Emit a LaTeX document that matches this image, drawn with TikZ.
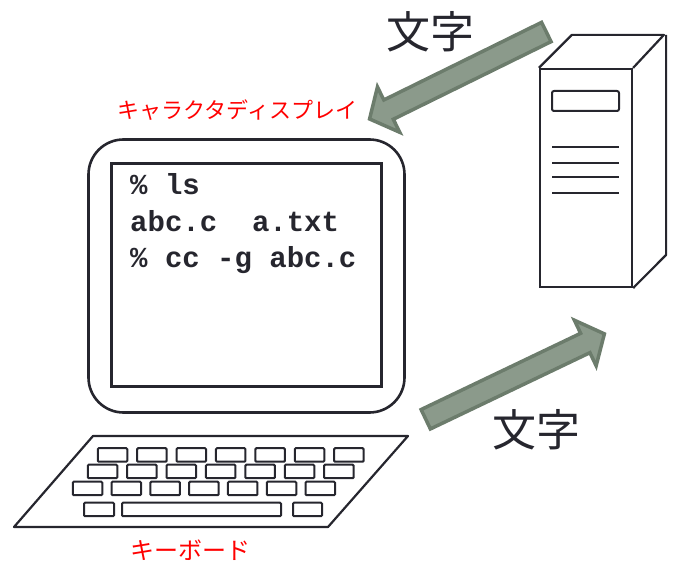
\documentclass[tikz,border=0pt]{standalone}
\usepackage{fontspec}
\usetikzlibrary{shapes.arrows}
\newfontfamily\jpfont{Noto Sans CJK JP}
\newfontfamily\termfont{Liberation Mono}
\definecolor{inkcol}{RGB}{38,38,46}
\definecolor{arrowfill}{RGB}{139,154,139}
\definecolor{arrowedge}{RGB}{108,124,108}

\begin{document}
\begin{tikzpicture}[x=1pt,y=1pt,
    outline/.style={draw=inkcol,line width=2.6pt},
    key/.style={draw=inkcol,line width=2pt,rounded corners=1pt,inner sep=0pt,minimum height=13.5pt},
    bigarrow/.style={single arrow,draw=arrowedge,fill=arrowfill,line width=3.5pt,inner xsep=0pt,inner ysep=9pt,
        minimum width=47pt,single arrow head extend=14.5pt,single arrow tip angle=100},
    tline/.style={anchor=base west,inner sep=0pt,text=inkcol,
        font=\termfont\bfseries\fontsize{29}{36}\selectfont},
    jplabel/.style={inner sep=0pt,text=red},
    ]
    \useasboundingbox (0,0) rectangle (681,563);

    %Display
    \node[outline,rounded corners=35pt,minimum width=316pt,minimum height=273pt] (monitor) at (246.5,287) {};
    \node[outline,minimum width=270pt,minimum height=223pt] (screen) at (246.5,288) {};
    \node[tline] (line1) at (130,368) {\%\ ls};
    \node[tline] (line2) at (130,331) {abc.c\ \ a.txt};
    \node[tline] (line3) at (130,295) {\%\ cc -g abc.c};
    \node[jplabel,font=\jpfont\fontsize{22}{22}\selectfont] (displbl) at (237.5,453) {キャラクタディスプレイ};

    %Keyboard
    \draw[outline,line width=2.2pt,line join=round] (93,127) -- (408,127) -- (328,36) -- (14,36) -- cycle;
    \foreach \i in {0,...,6} {
        \node[key,minimum width=29.5pt] (ka\i) at ({112.5+39.4*\i},108) {};
        \node[key,minimum width=29.5pt] (kb\i) at ({102.5+39.4*\i},91.5) {};
        \node[key,minimum width=29.5pt] (kc\i) at ({87.5+38.8*\i},74.5) {};
    }
    \node[key,minimum width=30pt] (kd0) at (99,53.5) {};
    \node[key,minimum width=159pt] (space) at (201.5,53.5) {};
    \node[key,minimum width=29pt] (kd1) at (307.5,53.5) {};
    \node[jplabel,font=\jpfont\fontsize{24}{24}\selectfont] (kbdlbl) at (190,13) {キーボード};

    %Server
    \node[outline,line width=2.2pt,minimum width=92pt,minimum height=218pt] (server) at (586,385) {};
    \draw[outline,line width=2.2pt,line join=round] (server.north west) -- ++(33,33) -- ++(92,0) -- (server.north east);
    \draw[outline,line width=2.2pt,line join=round] (server.north east) ++(33,33) -- ++(0,-220) -- (server.south east);
    \node[outline,line width=2pt,rounded corners=2pt,minimum width=67pt,minimum height=20pt] (slot) at (585.5,462) {};
    \foreach \y in {416,400,386,370}
        \draw[inkcol,line width=2pt] (552,\y) -- (619,\y);

    %Characters flowing in and out
    \node[bigarrow,minimum height=197pt,rotate=206.2] (recv) at (462,489.5) {};
    \node[bigarrow,minimum height=198pt,rotate=25.55] (send) at (511,184.5) {};
    \node[inner sep=0pt,text=inkcol,font=\jpfont\fontsize{44}{44}\selectfont] (chartop) at (430,531) {文字};
    \node[inner sep=0pt,text=inkcol,font=\jpfont\fontsize{44}{44}\selectfont] (charbot) at (536,133) {文字};
\end{tikzpicture}
\end{document}
